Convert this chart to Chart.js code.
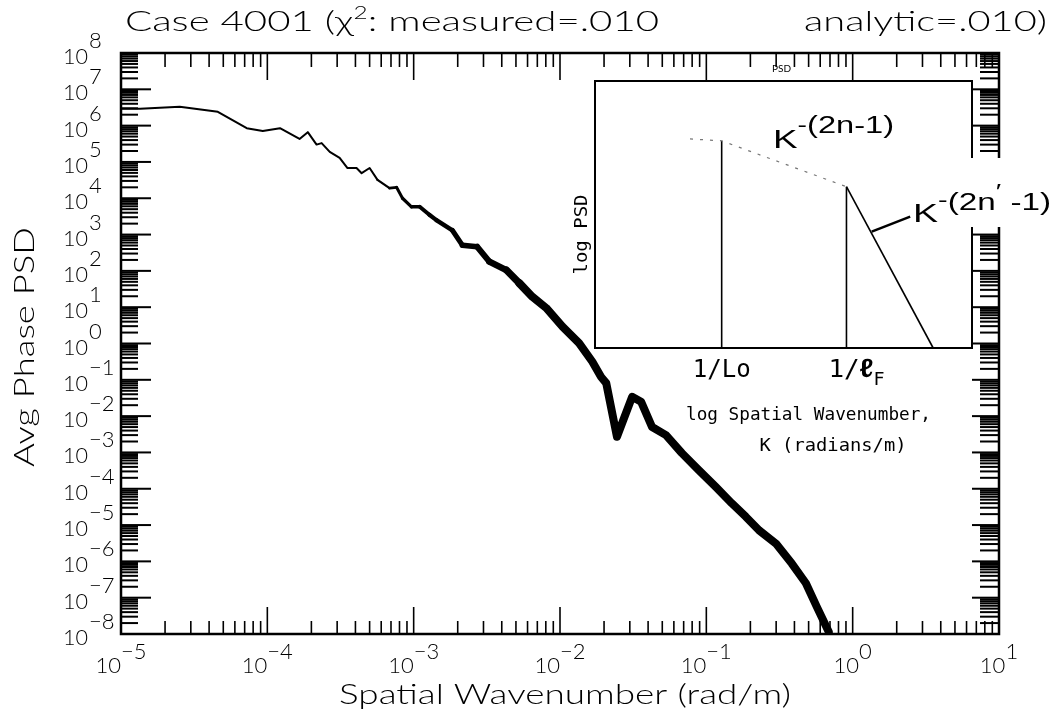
<!DOCTYPE html>
<html>
<head>
<meta charset="utf-8">
<script src="https://cdn.jsdelivr.net/npm/chart.js@4/dist/chart.umd.min.js"></script>
<style>
  html, body { margin: 0; padding: 0; background: #fff; }
  #wrap { position: relative; width: 1053px; height: 717px; }
  #main { position: absolute; left: 0; top: 0; }
  #inset { position: absolute; left: 560px; top: 60px; }
</style>
</head>
<body>
<div id="wrap">
  <canvas id="main" width="1053" height="717"></canvas>
  <canvas id="inset" width="493" height="420"></canvas>
</div>
<script>
// ---- data ----
const wavenumber = [
  1.02e-5, 1.35e-5, 2.52e-5, 4.59e-5, 7.23e-5, 9.31e-5, 1.22e-4, 1.66e-4, 1.89e-4, 2.17e-4,
  2.35e-4, 2.67e-4, 3.12e-4, 3.53e-4, 4.07e-4, 4.41e-4, 5.00e-4, 5.66e-4, 6.84e-4, 7.64e-4,
  8.39e-4, 9.66e-4, 1.10e-3, 1.28e-3, 1.43e-3, 1.84e-3, 2.15e-3, 2.72e-3, 3.29e-3, 4.30e-3,
  5.27e-3, 6.46e-3, 8.05e-3, 1.04e-2, 1.35e-2, 1.66e-2, 1.91e-2, 2.07e-2, 2.45e-2, 3.11e-2,
  3.58e-2, 4.26e-2, 5.30e-2, 6.82e-2, 8.91e-2, 0.116, 0.149, 0.186, 0.229, 0.299,
  0.384, 0.479, 0.569, 0.686
];
const phasePsd = [
  2.9e6, 2.9e6, 3.3e6, 2.4e6, 8.5e5, 7.1e5, 8.5e5, 4.3e5, 6.6e5, 3.0e5,
  3.3e5, 1.9e5, 1.3e5, 6.8e4, 6.8e4, 4.9e4, 6.8e4, 3.2e4, 1.9e4, 2.0e4,
  1.0e4, 5.8e3, 5.8e3, 3.5e3, 2.5e3, 1.3e3, 510, 460, 180, 105,
  46, 19.5, 9.5, 2.9, 1.02, 0.32, 0.12, 0.081, 2.7e-3, 0.034,
  0.025, 5.0e-3, 3.0e-3, 9.5e-4, 3.2e-4, 1.12e-4, 4.0e-5, 1.7e-5, 7.2e-6, 3.1e-6,
  8.7e-7, 2.5e-7, 5.6e-8, 1.15e-8
];
const xDecades = [-5, -4, -3, -2, -1, 0, 1];
const yDecades = [-8, -7, -6, -5, -4, -3, -2, -1, 0, 1, 2, 3, 4, 5, 6, 7, 8];
const titleLeft = ['Case 4001 (\u03c7', '2', ': measured=.010'];
const titleRight = 'analytic=.010)';
const xTitle = 'Spatial Wavenumber (rad/m)';
const yTitle = 'Avg Phase PSD';

// inset sketch (arbitrary log units 0..10)
const insetKnee = [{ x: 2.52, y: 7.83 }, { x: 3.36, y: 7.76 }, { x: 6.67, y: 6.04 }];
const insetSteep = [{ x: 6.67, y: 6.04 }, { x: 8.97, y: 0 }];
const insetLo = [{ x: 3.36, y: 0 }, { x: 3.36, y: 7.76 }];
const insetLf = [{ x: 6.67, y: 0 }, { x: 6.67, y: 6.04 }];
const insetLeader = [{ x: 7.34, y: 4.36 }, { x: 8.36, y: 4.92 }];

const SANS = 'Lato, "Open Sans", "DejaVu Sans", sans-serif';
const MONO = '"DejaVu Sans Mono", "Liberation Mono", monospace';
const KFONT = '"Liberation Sans", Arial, sans-serif';

// draw a run of text pieces [text, font, dy], optionally squeezed/stretched to width
function runs(ctx, parts, x, y, width, align) {
  ctx.textAlign = 'left';
  ctx.textBaseline = 'alphabetic';
  let total = 0;
  parts.forEach((p) => { ctx.font = p[1]; total += ctx.measureText(p[0]).width; });
  const s = width ? width / total : 1;
  let x0 = x;
  if (align === 'center') x0 = x - total * s / 2;
  else if (align === 'right') x0 = x - total * s;
  ctx.save();
  ctx.translate(x0, y);
  ctx.scale(s, 1);
  let cx = 0;
  parts.forEach((p) => { ctx.font = p[1]; ctx.fillText(p[0], cx, p[2] || 0); cx += ctx.measureText(p[0]).width; });
  ctx.restore();
  return total * s;
}
const expText = (e) => (e < 0 ? '\u2212' + (-e) : String(e));

const frame = {
  id: 'frame',
  afterDatasetsDraw(chart) {
    const { ctx, chartArea: a, scales: { x, y } } = chart;
    const seg = (x1, y1, x2, y2) => { ctx.beginPath(); ctx.moveTo(x1, y1); ctx.lineTo(x2, y2); ctx.stroke(); };
    ctx.save();
    ctx.strokeStyle = '#000';
    ctx.fillStyle = '#000';
    // x ticks (bottom and top)
    ctx.lineWidth = 1.6;
    xDecades.forEach((d, i) => {
      const px = x.getPixelForValue(10 ** d);
      seg(px, a.bottom, px, a.bottom - 27);
      seg(px, a.top, px, a.top + 27);
      if (i === xDecades.length - 1) return;
      for (let m = 2; m <= 9; m++) {
        const q = x.getPixelForValue(m * 10 ** d);
        seg(q, a.bottom, q, a.bottom - 13);
        seg(q, a.top, q, a.top + 14);
      }
    });
    // y ticks (left and right)
    ctx.lineWidth = 2;
    yDecades.forEach((d, i) => {
      const py = y.getPixelForValue(10 ** d);
      seg(a.left, py, a.left + 30, py);
      seg(a.right, py, a.right - 27, py);
      if (i === yDecades.length - 1) return;
      for (let m = 2; m <= 9; m++) {
        const q = y.getPixelForValue(m * 10 ** d);
        seg(a.left, q, a.left + 17, q);
        seg(a.right, q, a.right - 19, q);
      }
    });
    ctx.lineWidth = 2.5;
    ctx.strokeRect(a.left, a.top, a.right - a.left, a.bottom - a.top);

    // tick labels
    const big = '300 22px ' + SANS;
    yDecades.forEach((d) => {
      const py = y.getPixelForValue(10 ** d);
      runs(ctx, [['10', big]], 88, py + 11, 25, 'right');
      runs(ctx, [[expText(d), big]], 89, py - 5, null, 'left');
    });
    xDecades.forEach((d) => {
      const px = x.getPixelForValue(10 ** d);
      runs(ctx, [['10', big, 14], [expText(d), big, 0]], px, 659, null, 'center');
    });

    // titles
    const tf = '300 28px ' + SANS;
    runs(ctx, [[titleLeft[0], tf], [titleLeft[1], '300 17px ' + SANS, -12], [titleLeft[2], tf]], 125, 31, 534, 'left');
    runs(ctx, [[titleRight, tf]], 804, 31, 243, 'left');
    runs(ctx, [[xTitle, tf]], 565, 704, 452, 'center');
    ctx.save();
    ctx.translate(34, 347);
    ctx.rotate(-Math.PI / 2);
    runs(ctx, [[yTitle, tf]], 0, 0, 240, 'center');
    ctx.restore();
    ctx.restore();
  }
};

new Chart(document.getElementById('main'), {
  type: 'line',
  data: {
    datasets: [{
      data: wavenumber.map((k, i) => ({ x: k, y: phasePsd[i] })),
      borderColor: '#000',
      borderWidth: 2,
      pointRadius: 0,
      tension: 0,
      fill: false,
      borderJoinStyle: 'round',
      borderCapStyle: 'round',
      segment: {
        // the scanned trace turns into a thick noisy band towards high wavenumber
        borderWidth: (c) => {
          const lk = Math.log10(c.p0.parsed.x);
          if (lk < -3.3) return 2;
          if (lk < -2.3) return 2 + (lk + 3.3) * 5.5;
          return 8;
        }
      }
    }]
  },
  options: {
    responsive: false,
    animation: false,
    events: [],
    layout: { padding: { left: 121, top: 53, right: 54, bottom: 83 } },
    plugins: { legend: { display: false }, tooltip: { enabled: false } },
    scales: {
      x: { type: 'logarithmic', min: 1e-5, max: 10, display: false },
      y: { type: 'logarithmic', min: 1e-8, max: 1e8, display: false }
    }
  },
  plugins: [frame]
});

// ---- inset sketch ----
const insetDeco = {
  id: 'insetDeco',
  beforeDatasetsDraw(chart) {
    const { ctx, chartArea: a } = chart;
    ctx.save();
    ctx.fillStyle = '#fff';
    ctx.fillRect(a.left, a.top, a.right - a.left, a.bottom - a.top);
    ctx.strokeStyle = '#000';
    ctx.lineWidth = 2;
    ctx.strokeRect(a.left, a.top, a.right - a.left, a.bottom - a.top);
    // white patch behind the K^-(2n'-1) label, over the main right axis
    ctx.fillRect(370, 98, 123, 69);
    ctx.restore();
  },
  afterDraw(chart) {
    const { ctx, chartArea: a, scales: { x } } = chart;
    ctx.save();
    ctx.fillStyle = '#000';
    const mono = (s) => 'normal ' + s + 'px ' + MONO;
    ctx.save();
    ctx.translate(a.left - 8, (a.top + a.bottom) / 2 + 20);
    ctx.rotate(-Math.PI / 2);
    runs(ctx, [['log PSD', mono(17)]], 0, 0, 80, 'center');
    ctx.restore();
    runs(ctx, [['1/Lo', mono(24)]], x.getPixelForValue(3.36), a.bottom + 29, 58, 'center');
    runs(ctx, [['1/', mono(24)], ['\u2113', 'bold 26px ' + KFONT], ['F', mono(17), 8]], x.getPixelForValue(6.67) + 10, a.bottom + 29, 56, 'center');
    runs(ctx, [['log Spatial Wavenumber,', mono(18)]], 126, a.bottom + 72, 245, 'left');
    runs(ctx, [['K (radians/m)', mono(18)]], 273, a.bottom + 103, 147, 'center');
    // slope labels
    runs(ctx, [['K', '26px ' + KFONT], ['-', '20px ' + KFONT, -16], ['(2n-1)', '23px ' + KFONT, -15]], 213, 88, 121, 'left');
    runs(ctx, [['K', '26px ' + KFONT], ['-', '20px ' + KFONT, -15], ['(2n', '23px ' + KFONT, -12], ['\u2032', '20px ' + KFONT, -24], [' -1)', '23px ' + KFONT, -12]], 353, 162, 138, 'left');
    ctx.font = '10px ' + SANS;
    ctx.fillText('PSD', 212, 12);
    ctx.restore();
  }
};

const line = (data, extra) => Object.assign({
  data, borderColor: '#000', borderWidth: 1.6, pointRadius: 0, tension: 0, fill: false, clip: false
}, extra);

new Chart(document.getElementById('inset'), {
  type: 'line',
  data: {
    datasets: [
      line(insetKnee, { borderColor: '#777', borderWidth: 1.2, borderDash: [3, 7] }),
      line(insetSteep),
      line(insetLo),
      line(insetLf),
      line(insetLeader, { borderWidth: 2.6 })
    ]
  },
  options: {
    responsive: false,
    animation: false,
    events: [],
    layout: { padding: { left: 35, top: 21, right: 81, bottom: 132 } },
    plugins: { legend: { display: false }, tooltip: { enabled: false } },
    scales: {
      x: { type: 'linear', min: 0, max: 10, display: false },
      y: { type: 'linear', min: 0, max: 10, display: false }
    }
  },
  plugins: [insetDeco]
});
</script>
</body>
</html>
